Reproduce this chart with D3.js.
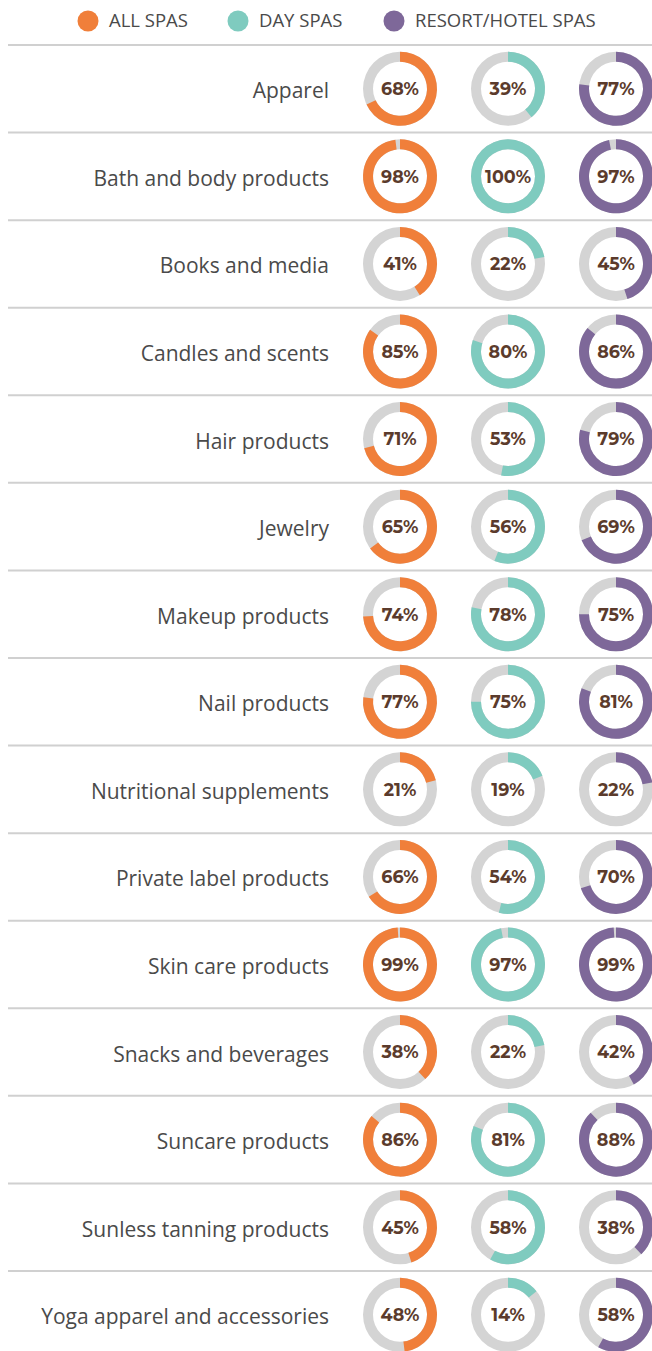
<!DOCTYPE html>
<html>
<head>
<meta charset="utf-8">
<script src="https://cdn.jsdelivr.net/npm/d3@7"></script>
<style>
  body { margin: 0; background: #fff; }
  svg { display: block; }
  .label { font-family: "Open Sans", sans-serif; font-size: 21px; fill: #4a4a4a; }
  .pct { font-family: "Montserrat", "Open Sans", sans-serif; font-weight: 700; font-size: 17.5px; fill: #5b3b2c; }
  .legend text { font-family: "Open Sans", sans-serif; font-size: 18.5px; fill: #4a4a4a; }
</style>
</head>
<body>
<svg id="chart" width="652" height="1351"></svg>
<script>
var categories = [
  'Apparel', 'Bath and body products', 'Books and media', 'Candles and scents',
  'Hair products', 'Jewelry', 'Makeup products', 'Nail products',
  'Nutritional supplements', 'Private label products', 'Skin care products',
  'Snacks and beverages', 'Suncare products', 'Sunless tanning products',
  'Yoga apparel and accessories'
];
var seriesNames = ['ALL SPAS', 'DAY SPAS', 'RESORT/HOTEL SPAS'];
var seriesColors = ['#f07f3a', '#7fcbbf', '#7e6899'];
var allSpas = [68, 98, 41, 85, 71, 65, 74, 77, 21, 66, 99, 38, 86, 45, 48];
var daySpas = [39, 100, 22, 80, 53, 56, 78, 75, 19, 54, 97, 22, 81, 58, 14];
var resortSpas = [77, 97, 45, 86, 79, 69, 75, 81, 22, 70, 99, 42, 88, 38, 58];
var seriesValues = [allSpas, daySpas, resortSpas];

var svg = d3.select('#chart');
var width = 652;

var y = d3.scaleBand().domain(categories).range([45, 45 + 87.57 * categories.length]);
var x = d3.scalePoint().domain(seriesNames).range([400, 616]);
var angle = d3.scaleLinear().domain([0, 100]).range([0, 2 * Math.PI]);
var outerR = 37, innerR = 27;
var arc = d3.arc().innerRadius(innerR).outerRadius(outerR);

// legend
var legendX = [88, 238, 394];
var legend = svg.append('g').attr('class', 'legend');
seriesNames.forEach(function(name, i) {
  legend.append('circle')
    .attr('cx', legendX[i]).attr('cy', 21).attr('r', 10.5)
    .attr('fill', seriesColors[i]);
  legend.append('text')
    .attr('x', legendX[i] + 21).attr('y', 21).attr('dy', '0.35em')
    .text(name);
});

// separators
svg.selectAll('.sep').data(categories).enter().append('line')
  .attr('class', 'sep')
  .attr('x1', 8).attr('x2', width)
  .attr('y1', function(d) { return y(d); })
  .attr('y2', function(d) { return y(d); })
  .attr('stroke', '#d0d0d0').attr('stroke-width', 2);

var rows = svg.selectAll('.row').data(categories).enter().append('g')
  .attr('class', 'row')
  .attr('transform', function(d) { return 'translate(0,' + (y(d) + y.bandwidth() / 2) + ')'; });

rows.append('text')
  .attr('class', 'label')
  .attr('x', 329).attr('dy', '0.45em')
  .attr('text-anchor', 'end')
  .text(function(d) { return d; });

rows.each(function(cat, ci) {
  var row = d3.select(this);
  seriesNames.forEach(function(name, si) {
    var v = seriesValues[si][ci];
    var g = row.append('g').attr('transform', 'translate(' + x(name) + ',0)');
    g.append('path')
      .attr('d', arc({ startAngle: 0, endAngle: 2 * Math.PI }))
      .attr('fill', '#d4d4d4');
    g.append('path')
      .attr('d', arc({ startAngle: 0, endAngle: angle(v) }))
      .attr('fill', seriesColors[si]);
    g.append('text')
      .attr('class', 'pct')
      .attr('text-anchor', 'middle').attr('dy', '0.36em')
      .text(v + '%');
  });
});
</script>
</body>
</html>
